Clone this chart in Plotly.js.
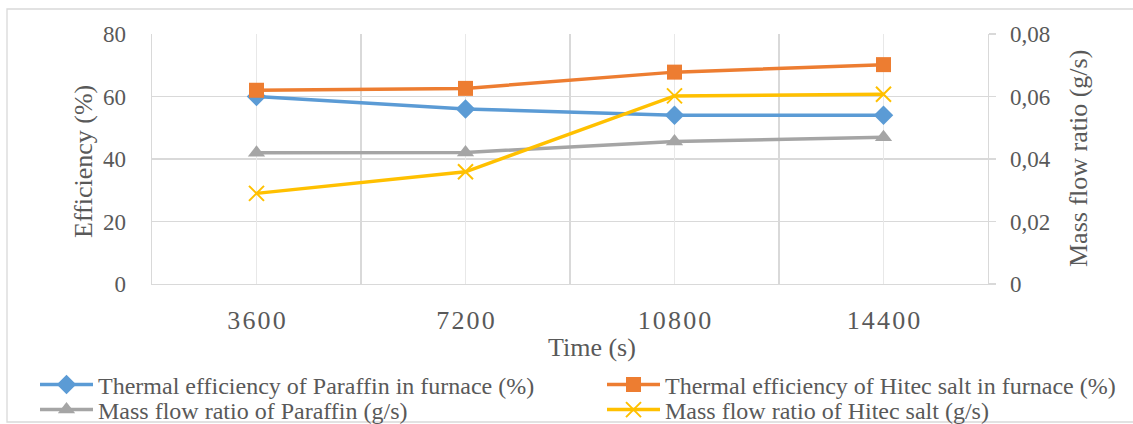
<!DOCTYPE html>
<html>
<head>
<meta charset="utf-8">
<script src="https://cdn.plot.ly/plotly-3.0.1.min.js"></script>
<style>
  html, body { margin: 0; padding: 0; background: #ffffff; }
  #chart { width: 1133px; height: 424px; }
</style>
</head>
<body>
<div id="chart"></div>
<script>
// Time steps (s)
const times = ["3600", "7200", "10800", "14400"];
// tick labels, digits set slightly apart
const timeLabels = times.map(t => t.split("").join("\u200A"));

// Thermal efficiency in furnace (%)
const effParaffin = [60, 56, 54, 54];
const effHitec = [62, 62.6, 67.8, 70.2];

// Mass flow ratio (g/s)
const flowParaffin = [0.042, 0.0421, 0.0456, 0.047];
const flowHitec = [0.029, 0.0359, 0.0602, 0.0607];

const names = [
  "Thermal efficiency of Paraffin in furnace (%)",
  "Thermal efficiency of Hitec salt in furnace (%)",
  "Mass flow ratio of Paraffin (g/s)",
  "Mass flow ratio of Hitec salt (g/s)"
];

const FONT = "Liberation Serif";
const TXT = "#595959";
const GRID = "#D9D9D9";

const traces = [
  {
    x: times, y: effParaffin, name: names[0], xaxis: "x", yaxis: "y", legend: "legend",
    mode: "lines+markers",
    line: { color: "#5B9BD5", width: 3.5 },
    marker: { symbol: "diamond", size: 15, color: "#5B9BD5" }
  },
  {
    x: times, y: effHitec, name: names[1], xaxis: "x", yaxis: "y", legend: "legend2",
    mode: "lines+markers",
    line: { color: "#ED7D31", width: 3.5 },
    marker: { symbol: "square", size: 15, color: "#ED7D31" }
  },
  {
    x: times, y: flowParaffin, name: names[2], xaxis: "x2", yaxis: "y2", legend: "legend3",
    mode: "lines+markers",
    line: { color: "#A5A5A5", width: 3.5 },
    marker: { symbol: "triangle-up", size: 15, color: "#A5A5A5" }
  },
  {
    x: times, y: flowHitec, name: names[3], xaxis: "x2", yaxis: "y2", legend: "legend4",
    mode: "lines+markers",
    line: { color: "#FFC000", width: 3.5 },
    marker: { symbol: "x-thin-open", size: 15, color: "#FFC000", line: { color: "#FFC000", width: 2 } }
  }
];

// plot area: left 152, right 988, top 34, bottom 284
const W = 1133, H = 424, L = 152, R = 145, T = 34, B = 140;
const pw = W - L - R, ph = H - T - B;
const px = v => (v - L) / pw;
const py = v => (H - B - v) / ph;

function legendAt(x, y) {
  return {
    orientation: "v",
    bgcolor: "rgba(0,0,0,0)",
    font: { family: FONT, size: 24, color: TXT },
    itemwidth: 53,
    tracegroupgap: 0,
    xanchor: "left", yanchor: "middle",
    xref: "paper", yref: "paper",
    x: px(x), y: py(y)
  };
}

const titleFont = { family: FONT, size: 26, color: TXT };

const layout = {
  width: W, height: H,
  margin: { l: L, r: R, t: T, b: B, pad: 0, autoexpand: false },
  paper_bgcolor: "#ffffff",
  plot_bgcolor: "#ffffff",
  separators: ",.",
  font: { family: FONT, color: TXT, size: 23 },
  showlegend: true,
  xaxis: {
    type: "category",
    categoryorder: "array", categoryarray: times,
    range: [-0.5, 3.5],
    tickvals: times, ticktext: timeLabels,
    tickson: "boundaries",
    ticks: "", showgrid: true, gridcolor: GRID, gridwidth: 1.3,
    showline: true, linecolor: GRID, linewidth: 1.3,
    tickfont: { family: FONT, size: 26, color: TXT },
    ticklabelstandoff: 12,
    automargin: false,
    zeroline: false, fixedrange: true
  },
  xaxis2: {
    type: "category",
    categoryorder: "array", categoryarray: times,
    range: [-0.5, 3.5],
    overlaying: "x", side: "bottom",
    showticklabels: false, ticks: "",
    showgrid: true, gridcolor: "#E8E8E8", gridwidth: 1.3,
    showline: false, zeroline: false, fixedrange: true,
    automargin: false
  },
  yaxis: {
    range: [0, 80], dtick: 20,
    showgrid: true, gridcolor: GRID, gridwidth: 1.3,
    showline: true, linecolor: GRID, linewidth: 1.3,
    ticks: "", zeroline: false,
    tickfont: { family: FONT, size: 23, color: TXT },
    ticklabelstandoff: 20,
    automargin: false,
    fixedrange: true
  },
  yaxis2: {
    range: [0, 0.08], dtick: 0.02,
    overlaying: "y", side: "right",
    showgrid: false,
    showline: true, linecolor: GRID, linewidth: 1.3,
    ticks: "outside", ticklen: 7, tickcolor: GRID, tickwidth: 1.3,
    zeroline: false,
    tickfont: { family: FONT, size: 23, color: TXT },
    ticklabelstandoff: 9,
    automargin: false,
    fixedrange: true
  },
  legend: legendAt(35, 385),
  legend2: legendAt(602, 385),
  legend3: legendAt(35, 410),
  legend4: legendAt(602, 410),
  annotations: [
    {
      text: "Time (s)", showarrow: false,
      xref: "paper", yref: "paper",
      x: px(592), y: py(347), xanchor: "center", yanchor: "middle",
      font: titleFont
    },
    {
      text: "Efficiency (%)", showarrow: false, textangle: -90,
      xref: "paper", yref: "paper",
      x: px(83), y: py(162), xanchor: "center", yanchor: "middle",
      font: titleFont
    },
    {
      text: "Mass flow ratio (g/s)", showarrow: false, textangle: -90,
      xref: "paper", yref: "paper",
      x: px(1078), y: py(159), xanchor: "center", yanchor: "middle",
      font: titleFont
    }
  ],
  shapes: [
    {
      type: "rect", xref: "paper", yref: "paper",
      x0: px(7), x1: px(1140), y0: py(422), y1: py(9),
      line: { color: GRID, width: 1.3 }, fillcolor: "rgba(0,0,0,0)", layer: "below"
    }
  ]
};

Plotly.newPlot("chart", traces, layout, { displayModeBar: false, staticPlot: true });
</script>
</body>
</html>
